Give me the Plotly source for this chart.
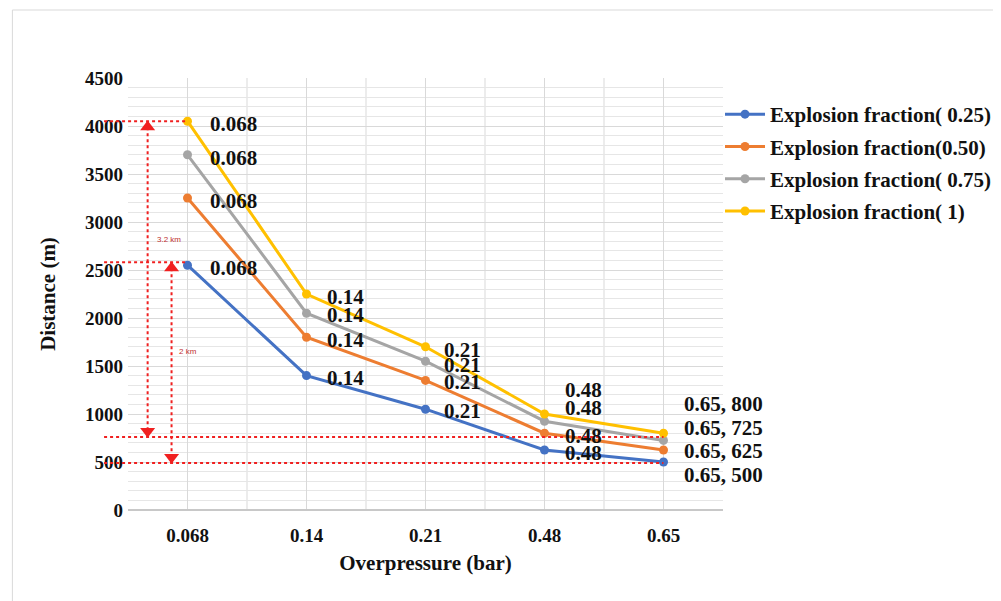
import plotly.graph_objects as go

# ---------------- data ----------------
categories = ["0.068", "0.14", "0.21", "0.48", "0.65"]
series_names = [
    "Explosion fraction( 0.25)",
    "Explosion fraction(0.50)",
    "Explosion fraction( 0.75)",
    "Explosion fraction( 1)",
]
ef_025 = [2550, 1400, 1050, 625, 500]
ef_050 = [3250, 1800, 1350, 800, 625]
ef_075 = [3700, 2050, 1550, 925, 725]
ef_100 = [4050, 2250, 1700, 1000, 800]
series_values = [ef_025, ef_050, ef_075, ef_100]

# reference lines (distance values, m) and their annotations
ref_levels = [4050, 2580, 760, 490]
span_labels = ["3.2 km", "2 km"]

# ---------------- styles ----------------
colors = ["#4472C4", "#ED7D31", "#A5A5A5", "#FFC000"]
label_yshift = [
    [-3, -2, -2, -3, -13],
    [-3, -3, -2, -3, -1],
    [-3, -2, -4, 13, 12],
    [-3, -3, -3, 24, 29],
]
label_xshift = [20, 18, 16, 18, 18]
FONT = "Liberation Serif"
RED = "#F02020"
OFF = 8  # page offset of the figure in the screenshot

W, H = 1001, 601
# screen-pixel positions of plot area in the reference
PL, PR, PT, PB = 128, 725, 78, 510
L, T = PL - OFF, PT - OFF
R = W - (PR - OFF)
B = H - (PB - OFF)
pw = W - L - R
ph = H - T - B


def px_to_paper_x(px):
    return (px - PL) / pw


def px_to_paper_y(py):
    return (PB - py) / ph


fig = go.Figure()

for name, vals, col in zip(series_names, series_values, colors):
    fig.add_trace(go.Scatter(
        x=categories, y=vals, name=name, mode="lines+markers",
        line=dict(color=col, width=3), marker=dict(color=col, size=9),
        legendgroup=name,
    ))

# data labels
annotations = []
for s, vals in enumerate(series_values):
    for i, (c, v) in enumerate(zip(categories, vals)):
        txt = c if i < len(categories) - 1 else f"{c}, {v}"
        annotations.append(dict(
            x=i, y=v, xref="x", yref="y", text=txt, showarrow=False,
            xanchor="left", yanchor="middle",
            xshift=label_xshift[i], yshift=label_yshift[s][i],
            font=dict(family=FONT, size=21, color="#111111", weight="bold"),
        ))

# span arrows: vertical dotted lines + triangle heads (on a hidden linear x axis)
arrow_x = [-0.335, -0.134]
spans = [(ref_levels[0], ref_levels[2]), (ref_levels[1], ref_levels[3])]
shapes = []
for ax_, (top, bot) in zip(arrow_x, spans):
    shapes.append(dict(type="line", xref="x", yref="y", x0=ax_, x1=ax_, y0=top, y1=bot,
                       line=dict(color=RED, width=2, dash="dot")))
    fig.add_trace(go.Scatter(
        x=[ax_, ax_], y=[top - 60, bot + 60], mode="markers", showlegend=False,
        hoverinfo="skip", cliponaxis=False, xaxis="x2",
        marker=dict(symbol=["triangle-up", "triangle-down"], size=13, color=RED),
    ))

# horizontal dotted reference lines
h_end_cat = [0, 0, 4, 4]
for lvl, ec in zip(ref_levels, h_end_cat):
    shapes.append(dict(type="line", xref="paper", yref="y",
                       x0=px_to_paper_x(104), x1=(ec + 0.5) / len(categories),
                       y0=lvl, y1=lvl, line=dict(color=RED, width=2, dash="dot")))

# vertical grid lines at category boundaries
for k in range(1, len(categories)):
    shapes.append(dict(type="line", xref="x", yref="paper", x0=k - 0.5, x1=k - 0.5,
                       y0=0, y1=1, layer="below", line=dict(color="#D9D9D9", width=1)))

# outer light border
shapes.append(dict(type="rect", xref="paper", yref="paper",
                   x0=px_to_paper_x(12), x1=px_to_paper_x(1030),
                   y0=px_to_paper_y(630), y1=px_to_paper_y(10),
                   line=dict(color="#D9D9D9", width=1), layer="below"))

# span labels
annotations.append(dict(x=-0.335, y=2820, text=span_labels[0], showarrow=False,
                        xanchor="left", xshift=7,
                        font=dict(family="Liberation Sans", size=8, color="#C03030")))
annotations.append(dict(x=-0.134, y=1650, text=span_labels[1], showarrow=False,
                        xanchor="left", xshift=5,
                        font=dict(family="Liberation Sans", size=8, color="#C03030")))

fig.update_layout(
    width=W, height=H,
    margin=dict(l=L, r=R, t=T, b=B),
    paper_bgcolor="white", plot_bgcolor="white",
    shapes=shapes, annotations=annotations,
    showlegend=True,
    legend=dict(x=px_to_paper_x(722), y=px_to_paper_y(94), xanchor="left", yanchor="top",
                font=dict(family=FONT, size=21, color="#111111", weight="bold"),
                tracegroupgap=2, itemwidth=40, bgcolor="rgba(0,0,0,0)"),
    xaxis=dict(
        type="category", range=[-0.5, len(categories) - 0.5],
        showgrid=True, gridcolor="#D9D9D9", gridwidth=1,
        showline=False, zeroline=False, ticks="", ticklabelstandoff=12,
        tickfont=dict(family=FONT, size=19, color="#111111", weight="bold"),
        title=dict(text="Overpressure (bar)", standoff=10,
                   font=dict(family=FONT, size=21, color="#111111", weight="bold")),
    ),
    xaxis2=dict(
        overlaying="x", range=[-0.5, len(categories) - 0.5], visible=False,
        showgrid=False, zeroline=False,
    ),
    yaxis=dict(
        range=[0, 4500], dtick=500, tick0=0,
        showgrid=True, gridcolor="#D9D9D9", gridwidth=1,
        minor=dict(dtick=100, showgrid=True, gridcolor="#E6E6E6", gridwidth=1),
        zeroline=True, zerolinecolor="#C8C8C8", showline=False, ticks="",
        ticklabelstandoff=4,
        tickfont=dict(family=FONT, size=19, color="#111111", weight="bold"),
        title=dict(text="Distance (m)", standoff=23,
                   font=dict(family=FONT, size=21, color="#111111", weight="bold")),
    ),
)

fig.write_html("out.html")
